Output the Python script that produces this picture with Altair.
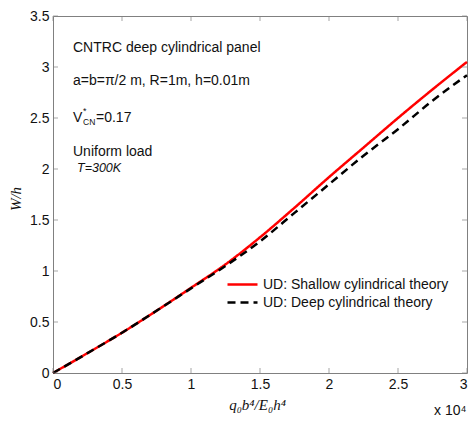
import altair as alt
import pandas as pd

# Load parameter (x 10^4) and deflection W/h
x_vals = [0, 0.25, 0.5, 0.75, 1.0, 1.25, 1.5, 1.75, 2.0, 2.25, 2.5, 2.75, 3.0]
shallow = [0, 0.195, 0.395, 0.61, 0.835, 1.065, 1.33, 1.62, 1.92, 2.21, 2.50, 2.78, 3.05]
deep = [0, 0.195, 0.395, 0.61, 0.83, 1.05, 1.29, 1.57, 1.85, 2.13, 2.39, 2.67, 2.92]
series_names = ["UD: Shallow cylindrical theory", "UD: Deep cylindrical theory"]
series_colors = ["#ff0000", "#000000"]
series_dash = [[1, 0], [8, 5]]
x_ticks = [0, 0.5, 1, 1.5, 2, 2.5, 3]
y_ticks = [0, 0.5, 1, 1.5, 2, 2.5, 3, 3.5]

rows = []
for xv, s in zip(x_vals, shallow):
    rows.append({"x": xv, "w": s, "series": series_names[0]})
for xv, d in zip(x_vals, deep):
    rows.append({"x": xv, "w": d, "series": series_names[1]})
df = pd.DataFrame(rows)

SANS = "Liberation Sans"
SERIF = "Liberation Serif"
W, H = 414, 357

def xenc(field="x"):
    return alt.X(f"{field}:Q", scale=alt.Scale(domain=[0, 3], nice=False),
                 axis=alt.Axis(values=x_ticks, format="~g", title="q₀b⁴/E₀h⁴",
                               titleFont=SERIF, titleFontStyle="italic", titleFontWeight="normal",
                               titleFontSize=15, titleX=W / 2 - 3, titleY=31, titleBaseline="middle",
                               labelPadding=4, grid=False))

def yenc(field="w"):
    return alt.Y(f"{field}:Q", scale=alt.Scale(domain=[0, 3.5], nice=False),
                 axis=alt.Axis(values=y_ticks, format="~g", title="W/h",
                               titleFont=SERIF, titleFontStyle="italic", titleFontWeight="normal",
                               titleFontSize=15, titleX=-38, titleY=H / 2 + 4, titleBaseline="middle",
                               labelPadding=4, grid=False))

leg = alt.Legend(title=None, orient="none", legendX=173, legendY=261, symbolType="stroke",
                 symbolSize=900, symbolStrokeWidth=2.5, labelFont=SANS, labelFontSize=14,
                 labelColor="#111", labelLimit=0, clipHeight=15, rowPadding=3, labelOffset=4, padding=0)

color = alt.Color("series:N", scale=alt.Scale(domain=series_names, range=series_colors), legend=leg)
dash = alt.StrokeDash("series:N", scale=alt.Scale(domain=series_names, range=series_dash), legend=leg)

base = alt.Chart(df).mark_line(strokeWidth=2.5, interpolate="monotone").encode(
    x=xenc(), y=yenc(), color=color, strokeDash=dash)
red_line = base.transform_filter(alt.datum.series == series_names[0])
black_line = base.transform_filter(alt.datum.series == series_names[1])

xt = pd.DataFrame({"x": x_ticks})
yt = pd.DataFrame({"w": y_ticks})
tick_col = "#808080"
tb = alt.Chart(xt).mark_tick(orient="vertical", size=5, thickness=1, color=tick_col).encode(x=xenc(), y=alt.value(H - 2.5))
tt = alt.Chart(xt).mark_tick(orient="vertical", size=5, thickness=1, color=tick_col).encode(x=xenc(), y=alt.value(2.5))
tl = alt.Chart(yt).mark_tick(orient="horizontal", size=5, thickness=1, color=tick_col).encode(y=yenc(), x=alt.value(2.5))
tr = alt.Chart(yt).mark_tick(orient="horizontal", size=5, thickness=1, color=tick_col).encode(y=yenc(), x=alt.value(W - 2.5))

ann = pd.DataFrame({
    "text": ["CNTRC deep cylindrical panel", "a=b=π/2 m, R=1m, h=0.01m", "V", "Uniform load"],
    "x": [0.145, 0.145, 0.145, 0.145],
    "w": [3.147, 2.824, 2.461, 2.128],
})
ann_layer = alt.Chart(ann).mark_text(align="left", baseline="alphabetic", font=SANS, fontSize=14, color="#111").encode(
    x=xenc(), y=yenc(), text="text:N")

sup = alt.Chart(pd.DataFrame({"text": ["*"], "x": [0.145], "w": [2.461]})).mark_text(
    align="left", baseline="alphabetic", font=SANS, fontSize=9, dx=10, dy=-8, color="#111").encode(
    x=xenc(), y=yenc(), text="text:N")
sub = alt.Chart(pd.DataFrame({"text": ["CN"], "x": [0.145], "w": [2.461]})).mark_text(
    align="left", baseline="alphabetic", font=SANS, fontSize=8.5, dx=10, dy=3, color="#111").encode(
    x=xenc(), y=yenc(), text="text:N")
eq = alt.Chart(pd.DataFrame({"text": ["=0.17"], "x": [0.145], "w": [2.461]})).mark_text(
    align="left", baseline="alphabetic", font=SANS, fontSize=14, dx=23, color="#111").encode(
    x=xenc(), y=yenc(), text="text:N")
temp = alt.Chart(pd.DataFrame({"text": ["T=300K"], "x": [0.174], "w": [1.975]})).mark_text(
    align="left", baseline="alphabetic", font=SANS, fontSize=12.5, fontStyle="italic", color="#111").encode(
    x=xenc(), y=yenc(), text="text:N")

mult = alt.Chart(pd.DataFrame({"text": ["x 10⁴"]})).mark_text(
    align="left", baseline="alphabetic", font=SANS, fontSize=14, color="#111").encode(
    x=alt.value(381), y=alt.value(399), text="text:N")

chart = alt.layer(red_line, black_line, tb, tt, tl, tr, ann_layer, sup, sub, eq, temp, mult).properties(
    width=W, height=H,
    padding={"left": 53, "top": 16, "right": 2, "bottom": 48},
    autosize=alt.AutoSizeParams(type="none"),
    background="white",
).configure_view(stroke="#808080", strokeWidth=1).configure_axis(
    domain=False, ticks=False, labelFont=SANS, labelFontSize=14, labelColor="#111", titleColor="#111"
)

chart.save("out.html", embed_options={"renderer": "svg", "actions": False})
